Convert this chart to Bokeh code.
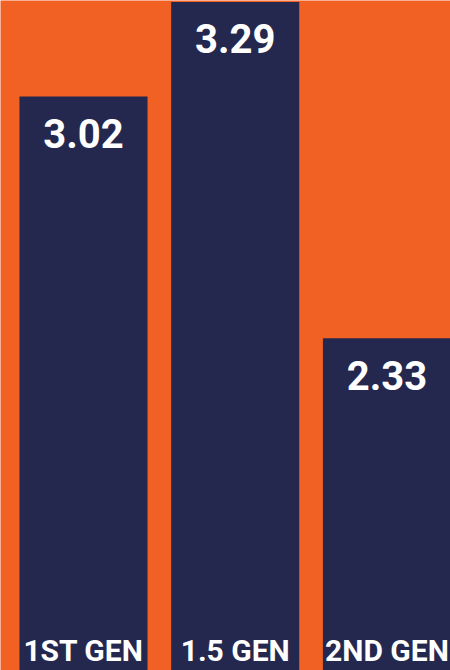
from bokeh.plotting import figure
from bokeh.models import Range1d, ColumnDataSource
from bokeh.core.properties import value
from bokeh.embed import file_html
from bokeh.resources import INLINE

categories = ["1ST GEN", "1.5 GEN", "2ND GEN"]
scores = [3.02, 3.29, 2.33]
score_labels = ["3.02", "3.29", "2.33"]

ORANGE = "#F26124"
NAVY = "#24284E"
FONT = "Roboto"

y0, y1 = 1.382, 3.294
xs = list(range(len(categories)))

src = ColumnDataSource(dict(
    x=xs, top=scores, cat=categories, lab=score_labels,
    base=[y0] * len(categories),
))

p = figure(width=450, height=670, output_backend="svg", toolbar_location=None,
           x_range=Range1d(-0.547, 2.419), y_range=Range1d(y0, y1),
           min_border=0, min_border_left=0, min_border_right=0,
           min_border_top=0, min_border_bottom=0)
p.axis.visible = False
p.grid.visible = False
p.outline_line_color = None
p.background_fill_color = ORANGE
p.border_fill_color = ORANGE

p.vbar(x="x", top="top", bottom=0, width=0.844, source=src,
       fill_color=NAVY, line_color=None)

p.text(x="x", y="top", text="lab", source=src, text_align="center",
       text_baseline="alphabetic", y_offset=37, text_color="white",
       text_font=value(FONT), text_font_style="bold", text_font_size="40px")

p.text(x="x", y="base", text="cat", source=src, text_align="center",
       text_baseline="alphabetic", y_offset=-20, text_color="white",
       text_font=value(FONT), text_font_style="bold", text_font_size="30px")

open("out.html", "w").write(file_html(p, INLINE))
